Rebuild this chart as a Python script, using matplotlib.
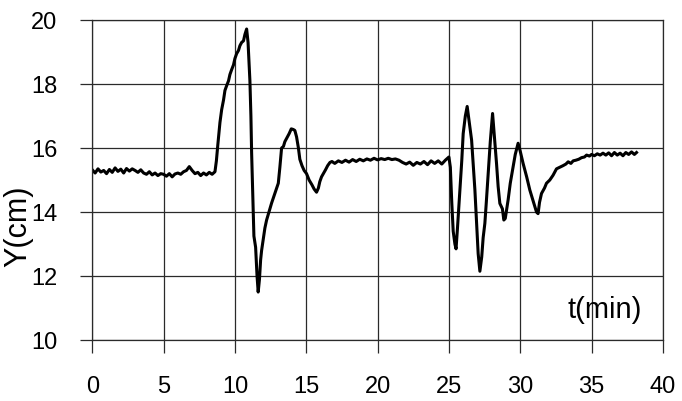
import matplotlib
matplotlib.use("Agg")
from matplotlib import pyplot as plt

# time (min) and level Y (cm)
t_plateau1 = [0.0, 0.2, 0.4, 0.6, 0.8, 1.0, 1.2, 1.4, 1.6, 1.8, 2.0, 2.2, 2.4, 2.6, 2.8,
              3.0, 3.2, 3.4, 3.6, 3.8, 4.0, 4.2, 4.4, 4.6, 4.8, 5.0, 5.2, 5.4, 5.6, 5.8,
              6.0, 6.2, 6.4, 6.6, 6.8, 7.0, 7.2, 7.4, 7.6, 7.8, 8.0, 8.2, 8.4, 8.6]
y_plateau1 = [15.32, 15.22, 15.35, 15.25, 15.30, 15.20, 15.33, 15.24, 15.38, 15.27, 15.34,
              15.22, 15.36, 15.28, 15.35, 15.30, 15.24, 15.32, 15.22, 15.18, 15.26, 15.16,
              15.22, 15.14, 15.20, 15.18, 15.12, 15.20, 15.10, 15.19, 15.22, 15.18, 15.26,
              15.30, 15.42, 15.30, 15.20, 15.24, 15.14, 15.22, 15.16, 15.24, 15.18, 15.26]

t_step1 = [8.70, 8.80, 8.95, 9.07, 9.20, 9.30, 9.42, 9.55, 9.65, 9.77, 9.90, 10.00, 10.12,
           10.25, 10.35, 10.47, 10.60, 10.70, 10.82, 10.92, 11.05, 11.12, 11.17, 11.25,
           11.33, 11.45, 11.55, 11.63, 11.72, 11.80, 11.87, 12.0, 12.1, 12.22, 12.35,
           12.45, 12.57, 12.7, 12.85, 13.04, 13.15, 13.27, 13.40, 13.50, 13.62, 13.80,
           13.95, 14.09, 14.20, 14.32, 14.45, 14.55, 14.70, 14.85, 15.02, 15.2, 15.4,
           15.55, 15.72, 15.85, 15.95, 16.07, 16.2, 16.35, 16.5, 16.66]
y_step1 = [15.6, 16.1, 16.8, 17.2, 17.5, 17.8, 17.95, 18.1, 18.3, 18.45, 18.6, 18.8, 18.95,
           19.05, 19.2, 19.3, 19.35, 19.55, 19.72, 19.3, 18.1, 17.0, 15.85, 14.5, 13.25,
           12.9, 12.0, 11.5, 11.9, 12.5, 12.8, 13.2, 13.5, 13.75, 13.95, 14.1, 14.28,
           14.45, 14.65, 14.9, 15.4, 16.0, 16.05, 16.2, 16.3, 16.45, 16.6, 16.58, 16.55,
           16.35, 16.0, 15.65, 15.45, 15.3, 15.2, 15.0, 14.85, 14.72, 14.62, 14.75, 14.95,
           15.1, 15.2, 15.32, 15.45, 15.55]

t_plateau2 = [16.8, 17.0, 17.25, 17.5, 17.75, 18.0, 18.25, 18.5, 18.75, 19.0, 19.25, 19.5,
              19.75, 20.0, 20.25, 20.5, 20.75, 21.0, 21.25, 21.5, 21.75, 22.0, 22.25,
              22.5, 22.75, 23.0, 23.25, 23.5, 23.75, 24.0, 24.25, 24.5, 24.75, 25.0]
y_plateau2 = [15.58, 15.52, 15.6, 15.55, 15.62, 15.56, 15.64, 15.58, 15.65, 15.6, 15.66,
              15.62, 15.68, 15.63, 15.67, 15.64, 15.68, 15.64, 15.66, 15.62, 15.55, 15.5,
              15.56, 15.46, 15.55, 15.5, 15.58, 15.48, 15.6, 15.52, 15.6, 15.5, 15.62, 15.72]

t_step2 = [25.1, 25.2, 25.3, 25.42, 25.5, 25.6, 25.77, 25.9, 26.0, 26.15, 26.28, 26.4,
           26.59, 26.7, 26.82, 26.95, 27.05, 27.17, 27.3, 27.4, 27.52, 27.62, 27.75, 27.9,
           28.06, 28.2, 28.34, 28.45, 28.57, 28.75, 28.85, 28.95, 29.05, 29.15, 29.3,
           29.5, 29.65, 29.85, 30.0, 30.2, 30.45, 30.67, 30.9, 31.14, 31.25, 31.35,
           31.49, 31.7, 31.84, 32.07, 32.3, 32.54, 32.77, 33.0, 33.2, 33.36, 33.55,
           33.71, 33.9, 34.1, 34.3, 34.5, 34.65, 34.85, 35.0, 35.2, 35.4, 35.6, 35.8,
           36.0, 36.2, 36.4, 36.6, 36.8, 37.0, 37.2, 37.4, 37.6, 37.8, 38.0, 38.15]
y_step2 = [15.4, 14.3, 13.4, 13.0, 12.85, 13.5, 14.7, 15.6, 16.45, 17.0, 17.3, 16.9, 16.25,
           15.5, 14.7, 13.6, 12.7, 12.15, 12.6, 13.2, 13.65, 14.3, 15.2, 16.2, 17.08,
           16.3, 15.5, 14.8, 14.27, 14.1, 13.75, 13.8, 14.1, 14.38, 14.9, 15.42, 15.8,
           16.15, 15.9, 15.52, 15.1, 14.69, 14.35, 14.0, 13.95, 14.3, 14.58, 14.75, 14.9,
           15.0, 15.15, 15.35, 15.4, 15.45, 15.5, 15.57, 15.52, 15.6, 15.62, 15.65, 15.7,
           15.72, 15.78, 15.75, 15.8, 15.76, 15.82, 15.78, 15.84, 15.78, 15.85, 15.76,
           15.86, 15.78, 15.84, 15.76, 15.86, 15.8, 15.88, 15.8, 15.86]

t = t_plateau1 + t_step1 + t_plateau2 + t_step2
y = y_plateau1 + y_step1 + y_plateau2 + y_step2

x_ticks = [0, 5, 10, 15, 20, 25, 30, 35, 40]
y_ticks = [10, 12, 14, 16, 18, 20]

plt.rcParams['font.family'] = ['Liberation Sans', 'DejaVu Sans']

fig = plt.figure(figsize=(6.82, 4.01), dpi=100)
ax = fig.add_axes([0.1353, 0.152, 0.8367, 0.798])

ax.plot(t, y, color='black', linewidth=2.2)

ax.set_xlim(0, 40)
ax.set_ylim(10, 20)
ax.set_xticks(x_ticks)
ax.set_yticks(y_ticks)
ax.grid(True, color='#2a2a2a', linewidth=0.9)
ax.set_axisbelow(True)
for s in ax.spines.values():
    s.set_color('#2a2a2a')
    s.set_linewidth(0.9)
ax.tick_params(axis='x', length=9, width=0.9, color='#2a2a2a', pad=17, labelsize=17)
ax.tick_params(axis='y', length=9, width=0.9, color='#2a2a2a', pad=16, labelsize=17)

ax.text(35.9, 10.94, 't(min)', fontsize=21, ha='center', va='center')
ax.text(-0.13, 0.355, 'Y(cm)', fontsize=22, rotation=90, ha='center', va='center',
        transform=ax.transAxes)

fig.savefig('out.png', dpi=100)
